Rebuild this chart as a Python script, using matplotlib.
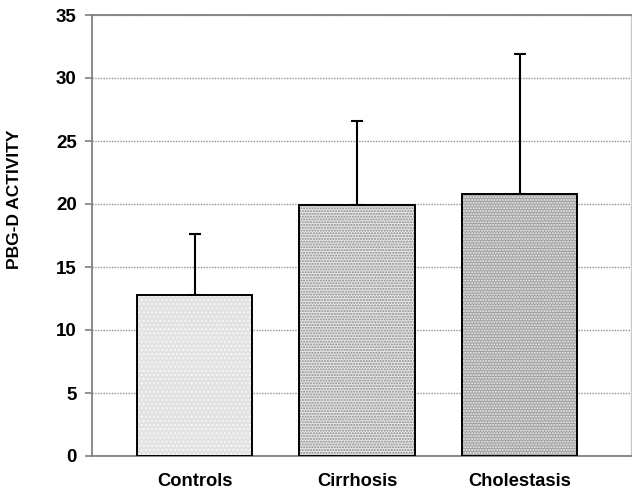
import numpy as np
from matplotlib import pyplot as plt

groups = ['Controls', 'Cirrhosis', 'Cholestasis']
means = [12.8, 19.9, 20.8]
sd = [4.8, 6.7, 11.1]

faces = ['#e2e2e2', '#e6e6e6', '#a0a0a0']
hatch_cols = ['#f6f6f6', '#8a8a8a', '#f0f0f0']
hatches = ['....', '......', '......']

plt.rcParams['font.family'] = ['Liberation Sans', 'DejaVu Sans']
plt.rcParams['font.weight'] = 'bold'

fig = plt.figure(figsize=(6.32, 4.92), dpi=100)
ax = fig.add_axes([92/632, 1 - 456/492, 539/632, 441/492])

x = np.arange(len(groups))
w = 0.708

for i in range(len(groups)):
    ax.bar(x[i], means[i], w, color=faces[i], hatch=hatches[i],
           edgecolor=hatch_cols[i], linewidth=0, zorder=2)
ax.bar(x, means, w, facecolor='none', edgecolor='black', linewidth=1.4, zorder=3)
ax.errorbar(x, means, yerr=[np.zeros(3), sd], fmt='none', ecolor='black',
            elinewidth=1.5, capsize=4, capthick=1.5, zorder=1)

ax.set_ylim(0, 35)
ax.set_xlim((92 - 194.5)/162.5, (631 - 194.5)/162.5)
ax.set_yticks(np.arange(0, 36, 5))
ax.set_xticks(x)
ax.set_xticklabels(groups, fontsize=13.2, fontweight='bold')
ax.tick_params(axis='y', labelsize=13.5, length=5, color='#808080', width=1.2, pad=6)
ax.tick_params(axis='x', length=0, pad=12)
ax.yaxis.grid(True, linestyle=(0, (1, 1)), color='#909090', linewidth=1)
ax.set_axisbelow(True)

for s in ['left', 'bottom', 'top']:
    ax.spines[s].set_color('#808080')
    ax.spines[s].set_linewidth(1.3)
ax.spines['right'].set_color('#c8c8c8')
ax.spines['right'].set_linewidth(1)

ax.set_ylabel('PBG-D ACTIVITY', fontsize=12.5, fontweight='bold')
ax.yaxis.set_label_coords((22 - 92)/539, (456 - 199)/441)

plt.savefig('out.png', dpi=100)
